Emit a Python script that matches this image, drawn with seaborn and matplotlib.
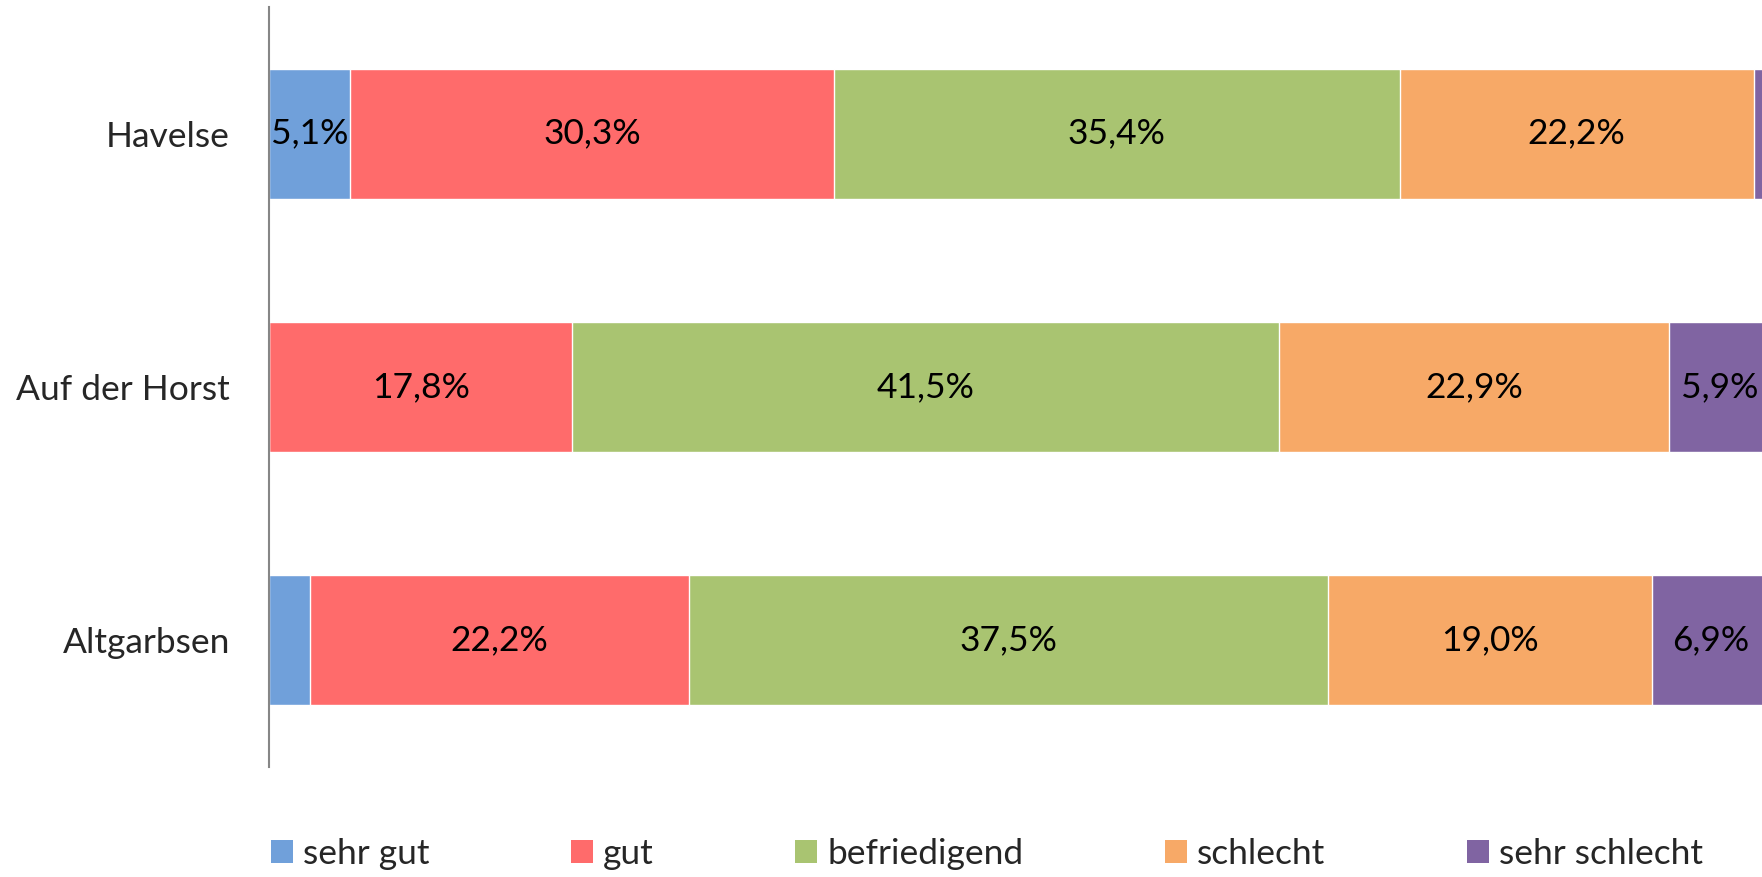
import numpy as np
import matplotlib
matplotlib.use("Agg")
import matplotlib.pyplot as plt
import matplotlib.patches as mpatches
import seaborn as sns

# Daten (Prozentwerte aus dem Diagramm)
orte = ["Havelse", "Auf der Horst", "Altgarbsen"]
noten = ["sehr gut", "gut", "befriedigend", "schlecht", "sehr schlecht"]
sehr_gut = [5.1, 0.0, 2.4]
gut = [30.3, 17.8, 22.2]
befriedigend = [35.4, 41.5, 37.5]
schlecht = [22.2, 22.9, 19.0]
sehr_schlecht = [1.0, 5.9, 6.9]

farben = ["#70A0DA", "#FF6B6B", "#A9C471", "#F7A967", "#8064A2"]

sns.set_style("white")
plt.rcParams["font.family"] = ["Lato", "DejaVu Sans"]
fs = 25.5

werte = np.array([sehr_gut, gut, befriedigend, schlecht, sehr_schlecht])
# 100%-gestapelt: jede Zeile auf 100 normieren
anteile = werte / werte.sum(axis=0) * 100
kum = np.cumsum(anteile, axis=0)

fig = plt.figure(figsize=(17.62, 8.77), dpi=100)
ax = fig.add_axes([269 / 1762, 1 - 767 / 877, 1 - 269 / 1762, 760 / 877])

# von hinten nach vorne zeichnen, damit die kuerzeren Summen oben liegen
for i in range(len(noten) - 1, -1, -1):
    sns.barplot(x=kum[i], y=orte, color=farben[i], orient="h", width=0.513,
                saturation=1, edgecolor="white", linewidth=1.0, ax=ax)

# Beschriftungen in der Mitte der Segmente
for i in range(len(noten)):
    for j, ort in enumerate(orte):
        v = werte[i, j]
        if v < 3:
            continue
        mitte = kum[i, j] - anteile[i, j] / 2
        ax.text(mitte, j, f"{v:.1f}%".replace(".", ","), ha="center", va="center",
                fontsize=fs, color="black")

ax.set_xlim(0, 99.47)
ax.set_ylim(2.5, -0.5)
ax.set_xlabel("")
ax.set_ylabel("")
ax.set_xticks([])
ax.tick_params(axis="y", length=0, pad=28, labelsize=fs)
for s in ["top", "right", "bottom"]:
    ax.spines[s].set_visible(False)
ax.spines["left"].set_color("#868686")
ax.spines["left"].set_linewidth(1.5)

handles = [mpatches.Patch(facecolor=c, edgecolor="none") for c in farben]
fig.legend(handles, noten, loc="center left", bbox_to_anchor=(271 / 1762, 1 - 854 / 877),
           ncol=5, frameon=False, fontsize=fs, handlelength=0.62, handleheight=0.62,
           handletextpad=0.28, columnspacing=4.0, borderpad=0, borderaxespad=0)

fig.savefig("out.png", dpi=100)
